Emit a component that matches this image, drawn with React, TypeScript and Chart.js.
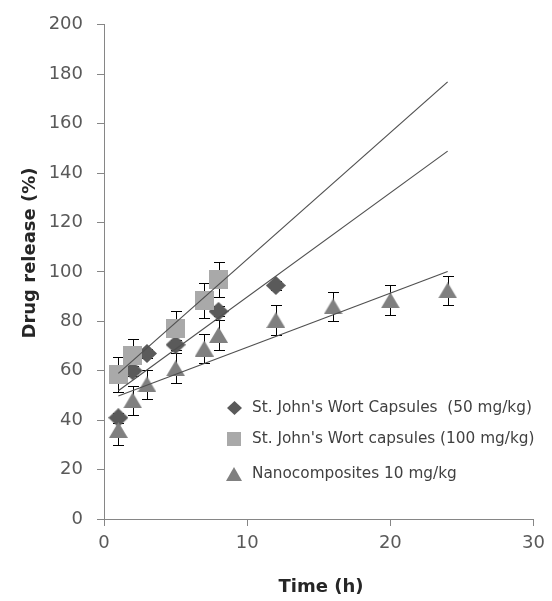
import { useEffect, useRef } from "react";
import { Chart, registerables } from "chart.js";
Chart.register(...registerables);

const xTickValues = [0, 10, 20, 30];
const yTickValues = [0, 20, 40, 60, 80, 100, 120, 140, 160, 180, 200];

const seriesLabels = [
  "St. John's Wort Capsules  (50 mg/kg)",
  "St. John's Wort capsules (100 mg/kg)",
  "Nanocomposites 10 mg/kg",
];

const time50 = [1, 2, 3, 5, 8, 12];
const release50 = [41, 60, 67, 70.5, 84, 94.5];
const err50 = [2, 2, 2, 2, 2, 2];

const time100 = [1, 2, 5, 7, 8];
const release100 = [58.5, 66, 77, 88.5, 97];
const err100 = [7, 7, 7, 7, 7];

const timeNano = [1, 2, 3, 5, 7, 8, 12, 16, 20, 24];
const releaseNano = [36, 48, 54.5, 61, 69, 74.5, 80.5, 86, 88.5, 92.5];
const errNano = [6, 6, 6, 6, 6, 6, 6, 6, 6, 6];

const trendRange = [1, 24];

const FONT = "'DejaVu Sans', sans-serif";

function fit(xs: number[], ys: number[]) {
  const n = xs.length;
  const mx = xs.reduce((a, b) => a + b, 0) / n;
  const my = ys.reduce((a, b) => a + b, 0) / n;
  let sxx = 0, sxy = 0;
  for (let i = 0; i < n; i++) {
    sxx += (xs[i] - mx) ** 2;
    sxy += (xs[i] - mx) * (ys[i] - my);
  }
  const b = sxy / sxx;
  const a = my - b * mx;
  return trendRange.map((x) => ({ x, y: a + b * x }));
}

function markerCanvas(kind: string, w: number, h: number, color: string) {
  const c = document.createElement("canvas");
  c.width = w;
  c.height = h;
  const ctx = c.getContext("2d")!;
  ctx.fillStyle = color;
  ctx.beginPath();
  if (kind === "diamond") {
    ctx.moveTo(0, h / 2);
    ctx.lineTo(w / 2, 0);
    ctx.lineTo(w, h / 2);
    ctx.lineTo(w / 2, h);
  } else if (kind === "square") {
    ctx.rect(0, 0, w, h);
  } else {
    ctx.moveTo(w / 2, 0);
    ctx.lineTo(w, h);
    ctx.lineTo(0, h);
  }
  ctx.closePath();
  ctx.fill();
  return c;
}

const series = [
  { label: seriesLabels[0], xs: time50, ys: release50, err: err50, kind: "diamond", w: 20, h: 19, lw: 15, lh: 14, color: "#5a5a5a" },
  { label: seriesLabels[1], xs: time100, ys: release100, err: err100, kind: "square", w: 19, h: 19, lw: 14, lh: 14, color: "#a9a9a9" },
  { label: seriesLabels[2], xs: timeNano, ys: releaseNano, err: errNano, kind: "triangle", w: 19, h: 16, lw: 16, lh: 14, color: "#808080" },
];

export default function App() {
  const ref = useRef<HTMLCanvasElement | null>(null);
  useEffect(() => {
    document.body.style.margin = "0";
    const canvas = ref.current!;
    const pointDatasets = series.map((s, si) => ({
      label: s.label,
      data: s.xs.map((x, i) => ({ x, y: s.ys[i] })),
      errs: s.err,
      showLine: false,
      pointStyle: markerCanvas(s.kind, s.w, s.h, s.color),
      legendMarker: markerCanvas(s.kind, s.lw, s.lh, s.color),
      pointRadius: 10,
      pointBackgroundColor: s.color,
      pointBorderWidth: 0,
      backgroundColor: s.color,
      borderColor: s.color,
      order: series.length - si,
    }));
    const trendDatasets = series.map((s) => ({
      label: s.label + " trend",
      data: fit(s.xs, s.ys),
      showLine: true,
      pointRadius: 0,
      borderColor: "#505050",
      borderWidth: 1.2,
      order: 0,
      isTrend: true,
    }));

    const errorBars = {
      id: "errorBars",
      beforeDatasetsDraw(chart: any) {
        const ctx = chart.ctx;
        const ys = chart.scales.y;
        ctx.save();
        ctx.strokeStyle = "#000000";
        ctx.lineWidth = 1;
        chart.data.datasets.forEach((ds: any, di: number) => {
          if (!ds.errs) return;
          const meta = chart.getDatasetMeta(di);
          meta.data.forEach((pt: any, i: number) => {
            const v = ds.data[i].y;
            const e = ds.errs[i];
            const x = Math.round(pt.x) + 0.5;
            const yt = Math.round(ys.getPixelForValue(v + e)) + 0.5;
            const yb = Math.round(ys.getPixelForValue(v - e)) + 0.5;
            ctx.beginPath();
            ctx.moveTo(x, yt);
            ctx.lineTo(x, yb);
            ctx.moveTo(x - 5.5, yt);
            ctx.lineTo(x + 5.5, yt);
            ctx.moveTo(x - 5.5, yb);
            ctx.lineTo(x + 5.5, yb);
            ctx.stroke();
          });
        });
        ctx.restore();
      },
    };

    const customLegend = {
      id: "customLegend",
      afterDraw(chart: any) {
        const ctx = chart.ctx;
        ctx.save();
        const rows = [408, 439, 474];
        const mx = 234;
        chart.data.datasets.forEach((ds: any, di: number) => {
          if (ds.isTrend) return;
          const y = rows[di];
          const m = ds.legendMarker as HTMLCanvasElement;
          ctx.drawImage(m, Math.round(mx - m.width / 2), Math.round(y - m.height / 2));
          ctx.fillStyle = "#404040";
          ctx.font = `15.3px ${FONT}`;
          ctx.textAlign = "left";
          ctx.textBaseline = "middle";
          ctx.fillText(ds.label, 252, y);
        });
        ctx.restore();
      },
    };

    const axisTitles = {
      id: "axisTitles",
      afterDraw(chart: any) {
        const ctx = chart.ctx;
        ctx.save();
        ctx.fillStyle = "#262626";
        ctx.font = `bold 18px ${FONT}`;
        ctx.textAlign = "center";
        ctx.textBaseline = "middle";
        ctx.fillText("Time (h)", 321, 587);
        ctx.translate(30, 253);
        ctx.rotate(-Math.PI / 2);
        ctx.fillText("Drug release (%)", 0, 0);
        ctx.restore();
      },
    };

    const axisColor = "#868686";
    const chart = new Chart(canvas, {
      type: "scatter",
      data: { datasets: [...pointDatasets, ...trendDatasets] as any },
      options: {
        responsive: false,
        animation: false,
        layout: { padding: { left: 0, top: 21, right: 17, bottom: 0 } },
        plugins: { legend: { display: false }, tooltip: { enabled: false } },
        scales: {
          x: {
            type: "linear",
            min: 0,
            max: 30,
            afterBuildTicks: (s: any) => { s.ticks = xTickValues.map((v) => ({ value: v })); },
            afterFit: (s: any) => { s.height = 82; },
            grid: { drawOnChartArea: false, drawTicks: true, tickLength: 7, color: axisColor },
            border: { color: axisColor, width: 1 },
            ticks: { font: { family: FONT, size: 18 }, color: "#595959", padding: 7 },
          },
          y: {
            type: "linear",
            min: 0,
            max: 200,
            afterBuildTicks: (s: any) => { s.ticks = yTickValues.map((v) => ({ value: v })); },
            afterFit: (s: any) => { s.width = 104; },
            grid: { drawOnChartArea: false, drawTicks: true, tickLength: 7, color: axisColor },
            border: { color: axisColor, width: 1 },
            ticks: { font: { family: FONT, size: 18 }, color: "#595959", padding: 14 },
          },
        },
      },
      plugins: [errorBars, customLegend, axisTitles],
    } as any);
    return () => chart.destroy();
  }, []);
  return <canvas ref={ref} width={552} height={601} style={{ display: "block" }} />;
}
